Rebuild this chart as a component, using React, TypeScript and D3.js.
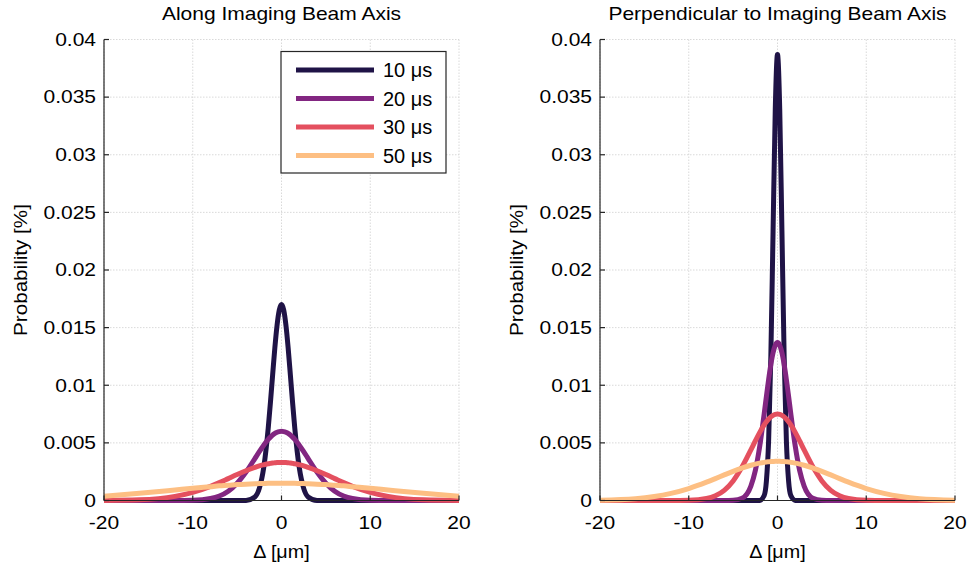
import React from "react";
import * as d3 from "d3";

// displacement grid (µm), finer near the centre where the peaks are narrow
const deltaUm = [-20, -16, -12, -10, -8, -7, -6, -5, -4, -3, -2.5, -2, -1.5, -1.25, -1, -0.75, -0.5, -0.25, 0,
  0.25, 0.5, 0.75, 1, 1.25, 1.5, 2, 2.5, 3, 4, 5, 6, 7, 8, 10, 12, 16, 20];

const seriesNames = ["10 μs", "20 μs", "30 μs", "50 μs"];
const seriesColors = ["#1f1346", "#822681", "#e4505f", "#fdbf83"];

// Along imaging beam axis
const along10 = [0, 0, 0, 0, 0, 0, 0, 0, 0.00001, 0.00031, 0.00105, 0.00287, 0.00625, 0.00848, 0.01089, 0.01324, 0.01521, 0.01653, 0.0170,
  0.01653, 0.01521, 0.01324, 0.01089, 0.00848, 0.00625, 0.00287, 0.00105, 0.00031, 0.00001, 0, 0, 0, 0, 0, 0, 0, 0];
const along20 = [0, 0, 0, 0.00002, 0.00017, 0.00039, 0.00081, 0.0015, 0.00247, 0.00364, 0.00424, 0.0048, 0.0053, 0.0055, 0.00568, 0.00582, 0.00592, 0.00598, 0.006,
  0.00598, 0.00592, 0.00582, 0.00568, 0.0055, 0.0053, 0.0048, 0.00424, 0.00364, 0.00247, 0.0015, 0.00081, 0.00039, 0.00017, 0.00002, 0, 0, 0];
const along30 = [0.00001, 0.00006, 0.00036, 0.00071, 0.00123, 0.00155, 0.0019, 0.00225, 0.00258, 0.00287, 0.003, 0.0031, 0.00319, 0.00322, 0.00325, 0.00327, 0.00329, 0.0033, 0.0033,
  0.0033, 0.00329, 0.00327, 0.00325, 0.00322, 0.00319, 0.0031, 0.003, 0.00287, 0.00258, 0.00225, 0.0019, 0.00155, 0.00123, 0.00071, 0.00036, 0.00006, 0.00001];
const along50 = [0.00037, 0.00062, 0.00091, 0.00106, 0.0012, 0.00127, 0.00132, 0.00138, 0.00142, 0.00145, 0.00147, 0.00148, 0.00149, 0.00149, 0.0015, 0.0015, 0.0015, 0.0015, 0.0015,
  0.0015, 0.0015, 0.0015, 0.0015, 0.00149, 0.00149, 0.00148, 0.00147, 0.00145, 0.00142, 0.00138, 0.00132, 0.00127, 0.0012, 0.00106, 0.00091, 0.00062, 0.00037];

// Perpendicular to imaging beam axis
const perp10 = [0, 0, 0, 0, 0, 0, 0, 0, 0, 0, 0, 0.00001, 0.00043, 0.00169, 0.00521, 0.0125, 0.02335, 0.03398, 0.0387,
  0.03398, 0.02335, 0.0125, 0.00521, 0.00169, 0.00043, 0.00001, 0, 0, 0, 0, 0, 0, 0, 0, 0, 0, 0];
const perp20 = [0, 0, 0, 0, 0, 0, 0, 0.00002, 0.00019, 0.00125, 0.00259, 0.00472, 0.00752, 0.00904, 0.0105, 0.01179, 0.01282, 0.01347, 0.0137,
  0.01347, 0.01282, 0.01179, 0.0105, 0.00904, 0.00752, 0.00472, 0.00259, 0.00125, 0.00019, 0.00002, 0, 0, 0, 0, 0, 0, 0];
const perp30 = [0, 0, 0, 0.00002, 0.00017, 0.00041, 0.00088, 0.0017, 0.0029, 0.00439, 0.00517, 0.00591, 0.00656, 0.00683, 0.00707, 0.00725, 0.00739, 0.00747, 0.0075,
  0.00747, 0.00739, 0.00725, 0.00707, 0.00683, 0.00656, 0.00591, 0.00517, 0.00439, 0.0029, 0.0017, 0.00088, 0.00041, 0.00017, 0.00002, 0, 0, 0];
const perp50 = [0.00003, 0.00016, 0.00062, 0.00104, 0.00159, 0.0019, 0.00222, 0.00253, 0.00281, 0.00306, 0.00316, 0.00324, 0.00331, 0.00334, 0.00336, 0.00338, 0.00339, 0.0034, 0.0034,
  0.0034, 0.00339, 0.00338, 0.00336, 0.00334, 0.00331, 0.00324, 0.00316, 0.00306, 0.00281, 0.00253, 0.00222, 0.0019, 0.00159, 0.00104, 0.00062, 0.00016, 0.00003];

const xTicks = [-20, -10, 0, 10, 20];
const yTicks = [0, 0.005, 0.01, 0.015, 0.02, 0.025, 0.03, 0.035, 0.04];
const yTickLabels = ["0", "0.005", "0.01", "0.015", "0.02", "0.025", "0.03", "0.035", "0.04"];

const FONT = "'Liberation Sans', Arial, Helvetica, sans-serif";
const W = 970, H = 567;
const top = 39.5, bottom = 500.5;
const SX = 1.2; // reference text is a little wider than Arial

// text with a horizontal stretch around its anchor
const T = ({ x, y, size, anchor = "start", rotate = 0, dy, sx = SX, children }: any) => (
  <text
    transform={`translate(${x},${y}) rotate(${rotate}) scale(${sx},1)`}
    textAnchor={anchor}
    fontSize={size}
    dy={dy}
  >
    {children}
  </text>
);

type PanelProps = { left: number; right: number; title: string; series: number[][]; legend?: boolean };

const Panel = ({ left, right, title, series, legend }: PanelProps) => {
  const x = d3.scaleLinear().domain([-20, 20]).range([left, right]);
  const y = d3.scaleLinear().domain([0, 0.04]).range([bottom, top]);
  const line = d3
    .line<number>()
    .x((d, i) => x(deltaUm[i]))
    .y((d) => y(d))
    .curve(d3.curveMonotoneX);
  const cx = (left + right) / 2;
  const midY = (top + bottom) / 2;

  return (
    <g fontFamily={FONT} fill="#000">
      {/* grid */}
      {xTicks.map((t) => (
        <line key={"gx" + t} x1={x(t)} x2={x(t)} y1={top} y2={bottom} stroke="#c8c8c8" strokeWidth={0.7} strokeDasharray="1.5,1.5" />
      ))}
      {yTicks.map((t) => (
        <line key={"gy" + t} x1={left} x2={right} y1={y(t)} y2={y(t)} stroke="#c8c8c8" strokeWidth={0.7} strokeDasharray="1.5,1.5" />
      ))}

      {/* curves */}
      {series.map((s, i) => (
        <path key={"s" + i} d={line(s) || ""} fill="none" stroke={seriesColors[i]} strokeWidth={5} strokeLinejoin="round" />
      ))}

      {/* axes */}
      <line x1={left} x2={left} y1={top} y2={bottom} stroke="#262626" strokeWidth={1.2} />
      <line x1={left} x2={right} y1={bottom} y2={bottom} stroke="#262626" strokeWidth={1.2} />
      {yTicks.map((t, i) => (
        <g key={"ty" + t}>
          <line x1={left} x2={left + 5} y1={y(t)} y2={y(t)} stroke="#262626" strokeWidth={1.2} />
          <T x={left - 8} y={y(t)} dy="0.36em" anchor="end" size={17.5}>
            {yTickLabels[i]}
          </T>
        </g>
      ))}
      {xTicks.map((t) => (
        <g key={"tx" + t}>
          <line x1={x(t)} x2={x(t)} y1={bottom} y2={bottom - 5} stroke="#262626" strokeWidth={1.2} />
          <T x={x(t)} y={529} anchor="middle" size={17.5}>
            {t}
          </T>
        </g>
      ))}

      <T x={cx} y={20} anchor="middle" size={17.5}>
        {title}
      </T>
      <T x={cx} y={558} anchor="middle" size={17.5} sx={1.13}>
        Δ [μm]
      </T>
      <T x={left - 77} y={midY} rotate={-90} anchor="middle" size={17.5} sx={1.18}>
        Probability [%]
      </T>

      {legend && (
        <g>
          <rect x={281} y={51.5} width={165} height={121.5} fill="#fff" stroke="#262626" strokeWidth={1.2} />
          {seriesNames.map((n, i) => (
            <g key={"lg" + i}>
              <line x1={296} x2={374} y1={70 + i * 28.5} y2={70 + i * 28.5} stroke={seriesColors[i]} strokeWidth={5} />
              <T x={383} y={70 + i * 28.5} dy="0.36em" size={20} sx={1}>
                {n}
              </T>
            </g>
          ))}
        </g>
      )}
    </g>
  );
};

export default function App() {
  return (
    <svg width={W} height={H} style={{ position: "absolute", left: 0, top: 0, background: "#fff" }}>
      <rect width={W} height={H} fill="#fff" />
      <Panel left={104} right={459} title="Along Imaging Beam Axis" series={[along10, along20, along30, along50]} legend />
      <Panel left={600} right={955} title="Perpendicular to Imaging Beam Axis" series={[perp10, perp20, perp30, perp50]} />
    </svg>
  );
}
